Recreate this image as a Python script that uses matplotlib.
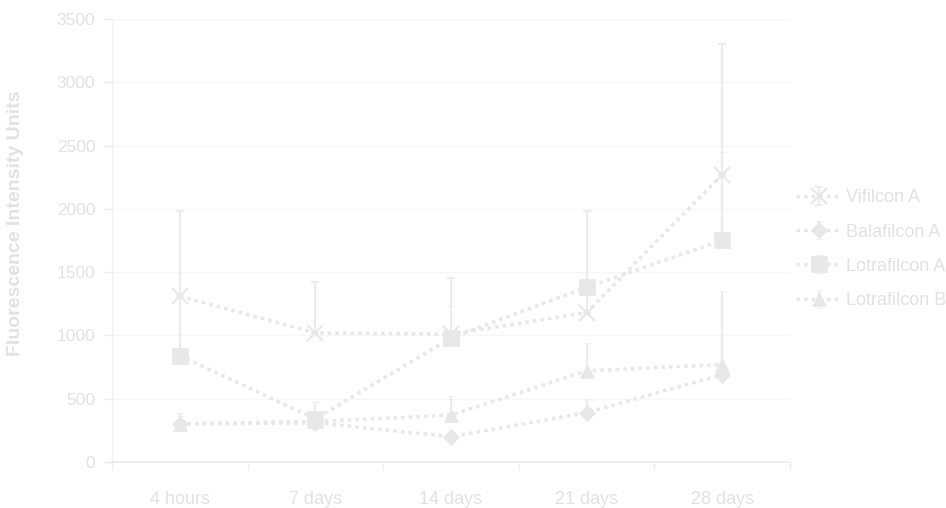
import matplotlib.pyplot as plt
import numpy as np

# Time points and mean fluorescence per lens material
timepoints = ['4 hours', '7 days', '14 days', '21 days', '28 days']
series_names = ['Vifilcon A', 'Balafilcon A', 'Lotrafilcon A', 'Lotrafilcon B']

vifilcon_a = [1310, 1020, 1010, 1180, 2270]
balafilcon_a = [300, 310, 200, 390, 690]
lotrafilcon_a = [840, 340, 980, 1380, 1750]
lotrafilcon_b = [300, 320, 370, 720, 770]

# Upper error bar lengths (SD)
vifilcon_a_err = [670, 400, 440, 800, 1030]
balafilcon_a_err = [90, 30, 20, 110, 40]
lotrafilcon_a_err = [460, 130, 250, 600, 700]
lotrafilcon_b_err = [60, 150, 150, 220, 580]

y_ticks = [0, 500, 1000, 1500, 2000, 2500, 3000, 3500]

plt.rcParams['font.family'] = ['Liberation Sans', 'DejaVu Sans']

text_col = '#e2e2e2'
mark_col = '#e8e8e8'

fig = plt.figure(figsize=(9.46, 5.08), dpi=100)
ax = fig.add_axes([0.1184, 0.0906, 0.7166, 0.872])

x = np.arange(len(timepoints))

data = [vifilcon_a, balafilcon_a, lotrafilcon_a, lotrafilcon_b]
errs = [vifilcon_a_err, balafilcon_a_err, lotrafilcon_a_err, lotrafilcon_b_err]
markers = ['x', 'D', 's', '^']
msizes = [11, 8, 12, 10]

for name, vals, err, m, ms in zip(series_names, data, errs, markers, msizes):
    ax.errorbar(x, vals, yerr=[np.zeros(len(err)), err], color=mark_col,
                ecolor='#ececec', elinewidth=1.5, capsize=3, capthick=1.5,
                linestyle=(0, (1, 1.2)), linewidth=2.5, marker=m,
                markersize=ms, markeredgewidth=1.5 if m == 'x' else 0.5,
                markerfacecolor=mark_col, markeredgecolor=mark_col, label=name)

ax.set_xlim(-0.5, 4.5)
ax.set_ylim(0, 3500)
ax.set_yticks(y_ticks)
ax.set_xticks(x)
ax.set_xticklabels(timepoints)
ax.set_xticks(np.arange(-0.5, 5, 1), minor=True)
ax.tick_params(axis='x', which='major', length=0, pad=21, labelsize=13, labelcolor=text_col)
ax.tick_params(axis='x', which='minor', length=6, width=1, color='#ececec', direction='out')
ax.tick_params(axis='y', length=6, width=1, color='#ececec', pad=6, labelsize=12.5, labelcolor=text_col)

ax.grid(axis='y', color='#f7f7f7', linewidth=1)
ax.set_axisbelow(True)
for s in ['top', 'right']:
    ax.spines[s].set_visible(False)
ax.spines['left'].set_color('#f2f2f2')
ax.spines['bottom'].set_color('#ececec')
ax.spines['bottom'].set_linewidth(1.2)

ax.set_ylabel('Fluorescence Intensity Units', fontsize=14, fontweight='bold',
              color=text_col)
ax.yaxis.set_label_coords(-0.13, 0.54)

leg = ax.legend(loc='upper left', bbox_to_anchor=(0.985, 0.652), frameon=False,
                fontsize=13, handlelength=2.5, handletextpad=0.25, labelspacing=0.95,
                labelcolor=text_col)

plt.savefig('out.png', dpi=100)
